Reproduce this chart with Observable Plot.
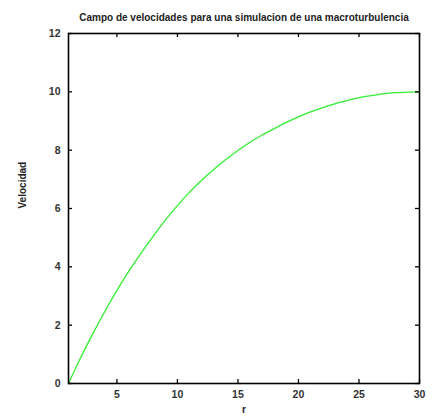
<!DOCTYPE html>
<html>
<head>
<meta charset="utf-8">
<script src="https://cdn.jsdelivr.net/npm/d3@7"></script>
<script src="https://cdn.jsdelivr.net/npm/@observablehq/plot@0.6"></script>
<style>
  html, body { margin: 0; padding: 0; background: #fff; }
  #chart svg { display: block; }
</style>
</head>
<body>
<div id="chart"></div>
<script>
const title = "Campo de velocidades para una simulacion de una macroturbulencia";
const xLabel = "r";
const yLabel = "Velocidad";
const xTicks = [5, 10, 15, 20, 25, 30];
const yTicks = [0, 2, 4, 6, 8, 10, 12];
const r = [1, 2, 3, 4, 5, 6, 7, 8, 9, 10, 11, 12, 13, 14, 15, 16, 17, 18, 19, 20, 21, 22, 23, 24, 25, 26, 27, 28, 29, 30];
const v = [0, 0.88, 1.70, 2.47, 3.19, 3.86, 4.47, 5.05, 5.60, 6.10, 6.56, 6.97, 7.34, 7.68, 7.99, 8.27, 8.52, 8.74, 8.95, 9.14, 9.31, 9.46, 9.59, 9.70, 9.80, 9.87, 9.93, 9.97, 9.99, 10.0];

const data = r.map((d, i) => ({r: d, v: v[i]}));

const W = 434, H = 418;
const mL = 68, mR = 15, mT = 33, mB = 35;
const pw = W - mL - mR, ph = H - mT - mB;
const tick = 4;
const font = "'Liberation Sans', Arial, sans-serif";

const chart = Plot.plot({
  width: W,
  height: H,
  marginLeft: mL,
  marginRight: mR,
  marginTop: mT,
  marginBottom: mB,
  style: {fontFamily: font, background: "#fff", color: "#222"},
  x: {domain: [1, 30]},
  y: {domain: [0, 12]},
  marks: [
    Plot.line(data, {x: "r", y: "v", stroke: "#33ee33", strokeWidth: 1.3, curve: "monotone-x"}),
    Plot.tickX(xTicks, {x: d => d, insetTop: ph - tick, stroke: "black", strokeWidth: 1.3}),
    Plot.tickX(xTicks, {x: d => d, insetBottom: ph - tick, stroke: "black", strokeWidth: 1.3}),
    Plot.tickY(yTicks, {y: d => d, insetRight: pw - tick, stroke: "black", strokeWidth: 1.3}),
    Plot.tickY(yTicks, {y: d => d, insetLeft: pw - tick, stroke: "black", strokeWidth: 1.3}),
    Plot.axisX({ticks: xTicks, tickSize: 0, tickPadding: 7, label: null, fontSize: 10.5, fontWeight: "bold", fill: "#333"}),
    Plot.axisY({ticks: yTicks, tickSize: 0, tickPadding: 8, label: null, fontSize: 10.5, fontWeight: "bold", fill: "#333"}),
    Plot.frame({stroke: "black", strokeWidth: 1.6}),
    Plot.text([title], {frameAnchor: "top", dy: -20, fontSize: 10, fontWeight: "bold", fill: "#222"}),
    Plot.text([xLabel], {frameAnchor: "bottom", dy: 29, fontSize: 10, fontWeight: "bold", fill: "#222"}),
    Plot.text([yLabel], {frameAnchor: "left", dx: -46, rotate: -90, fontSize: 10, fontWeight: "bold", fill: "#222"})
  ]
});
document.getElementById("chart").appendChild(chart);
</script>
</body>
</html>
